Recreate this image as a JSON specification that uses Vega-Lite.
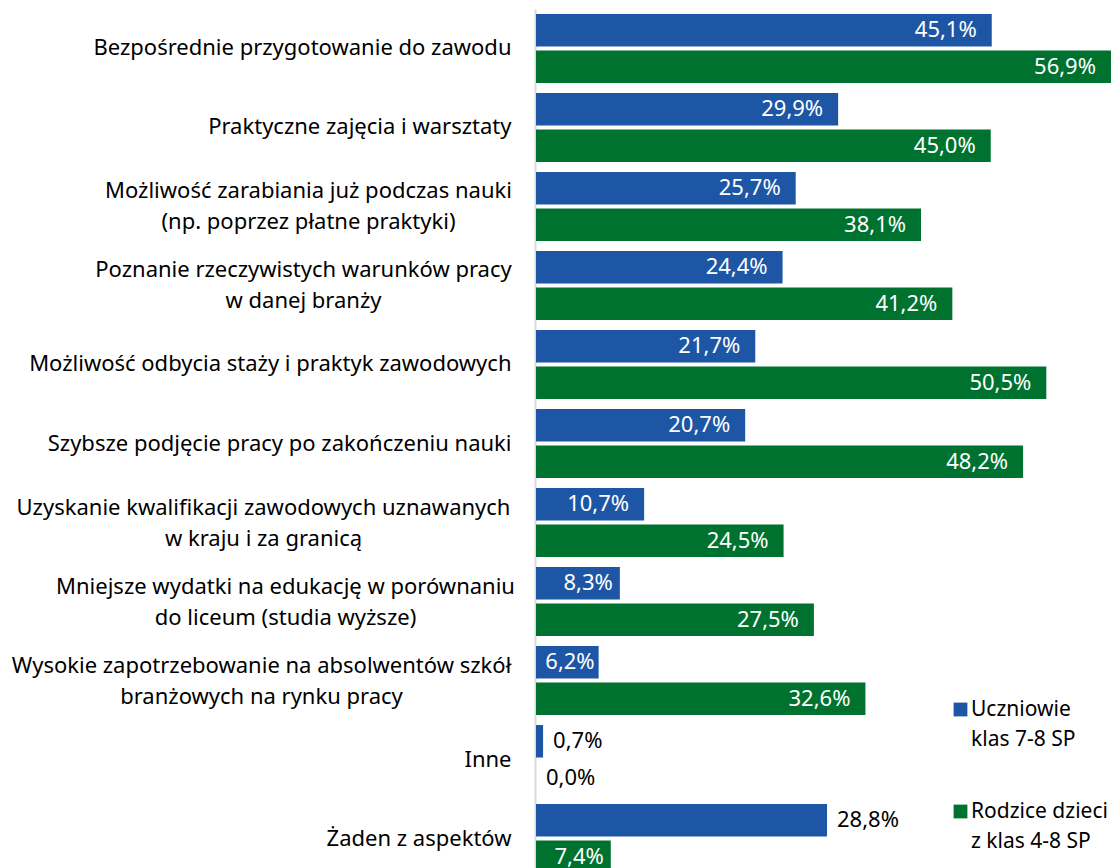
{
  "$schema": "https://vega.github.io/schema/vega-lite/v6.json",
  "width": 576,
  "height": 869,
  "autosize": {"type": "none"},
  "padding": {"left": 536, "top": 9, "right": 6, "bottom": 0},
  "background": "white",
  "config": {
    "view": {"stroke": null},
    "font": "Noto Sans",
    "style": {"guide-label": {"lineHeight": 30}}
  },
  "data": {
    "values": [
      {"category": "Bezpośrednie przygotowanie do zawodu", "series": "Uczniowie\nklas 7-8 SP", "value": 45.1},
      {"category": "Bezpośrednie przygotowanie do zawodu", "series": "Rodzice dzieci\nz klas 4-8 SP", "value": 56.9},
      {"category": "Praktyczne zajęcia i warsztaty", "series": "Uczniowie\nklas 7-8 SP", "value": 29.9},
      {"category": "Praktyczne zajęcia i warsztaty", "series": "Rodzice dzieci\nz klas 4-8 SP", "value": 45.0},
      {"category": "Możliwość zarabiania już podczas nauki\n(np. poprzez płatne praktyki)", "series": "Uczniowie\nklas 7-8 SP", "value": 25.7},
      {"category": "Możliwość zarabiania już podczas nauki\n(np. poprzez płatne praktyki)", "series": "Rodzice dzieci\nz klas 4-8 SP", "value": 38.1},
      {"category": "Poznanie rzeczywistych warunków pracy\nw danej branży", "series": "Uczniowie\nklas 7-8 SP", "value": 24.4},
      {"category": "Poznanie rzeczywistych warunków pracy\nw danej branży", "series": "Rodzice dzieci\nz klas 4-8 SP", "value": 41.2},
      {"category": "Możliwość odbycia staży i praktyk zawodowych", "series": "Uczniowie\nklas 7-8 SP", "value": 21.7},
      {"category": "Możliwość odbycia staży i praktyk zawodowych", "series": "Rodzice dzieci\nz klas 4-8 SP", "value": 50.5},
      {"category": "Szybsze podjęcie pracy po zakończeniu nauki", "series": "Uczniowie\nklas 7-8 SP", "value": 20.7},
      {"category": "Szybsze podjęcie pracy po zakończeniu nauki", "series": "Rodzice dzieci\nz klas 4-8 SP", "value": 48.2},
      {"category": "Uzyskanie kwalifikacji zawodowych uznawanych\nw kraju i za granicą", "series": "Uczniowie\nklas 7-8 SP", "value": 10.7},
      {"category": "Uzyskanie kwalifikacji zawodowych uznawanych\nw kraju i za granicą", "series": "Rodzice dzieci\nz klas 4-8 SP", "value": 24.5},
      {"category": "Mniejsze wydatki na edukację w porównaniu\ndo liceum (studia wyższe)", "series": "Uczniowie\nklas 7-8 SP", "value": 8.3},
      {"category": "Mniejsze wydatki na edukację w porównaniu\ndo liceum (studia wyższe)", "series": "Rodzice dzieci\nz klas 4-8 SP", "value": 27.5},
      {"category": "Wysokie zapotrzebowanie na absolwentów szkół\nbranżowych na rynku pracy", "series": "Uczniowie\nklas 7-8 SP", "value": 6.2},
      {"category": "Wysokie zapotrzebowanie na absolwentów szkół\nbranżowych na rynku pracy", "series": "Rodzice dzieci\nz klas 4-8 SP", "value": 32.6},
      {"category": "Inne", "series": "Uczniowie\nklas 7-8 SP", "value": 0.7},
      {"category": "Inne", "series": "Rodzice dzieci\nz klas 4-8 SP", "value": 0.0},
      {"category": "Żaden z aspektów", "series": "Uczniowie\nklas 7-8 SP", "value": 28.8},
      {"category": "Żaden z aspektów", "series": "Rodzice dzieci\nz klas 4-8 SP", "value": 7.4}
    ]
  },
  "transform": [
    {"calculate": "replace(format(datum.value, '.1f'), '.', ',') + '%'", "as": "label"}
  ],
  "encoding": {
    "y": {
      "field": "category",
      "type": "nominal",
      "scale": {
        "domain": [
          "Bezpośrednie przygotowanie do zawodu",
          "Praktyczne zajęcia i warsztaty",
          "Możliwość zarabiania już podczas nauki\n(np. poprzez płatne praktyki)",
          "Poznanie rzeczywistych warunków pracy\nw danej branży",
          "Możliwość odbycia staży i praktyk zawodowych",
          "Szybsze podjęcie pracy po zakończeniu nauki",
          "Uzyskanie kwalifikacji zawodowych uznawanych\nw kraju i za granicą",
          "Mniejsze wydatki na edukację w porównaniu\ndo liceum (studia wyższe)",
          "Wysokie zapotrzebowanie na absolwentów szkół\nbranżowych na rynku pracy",
          "Inne",
          "Żaden z aspektów"
        ],
        "paddingInner": 0.127,
        "paddingOuter": 0.063
      },
      "axis": {
        "title": null,
        "ticks": false,
        "domain": true,
        "domainColor": "#D9D9D9",
        "domainWidth": 2,
        "offset": 1,
        "labelFont": "Noto Sans",
        "labelFontSize": 22,
        "labelColor": "#000000",
        "labelLineHeight": 31,
        "labelLimit": 600,
        "labelExpr": "split(datum.label, '\\n')",
        "labelAlign": {
          "condition": {"test": "indexof(datum.value, '\\n') >= 0", "value": "center"},
          "value": "right"
        },
        "labelOffset": {
          "condition": {"test": "indexof(datum.value, '\\n') >= 0", "value": -15},
          "value": 0
        },
        "labelPadding": {
          "condition": [
            {"test": "indexof(datum.value, 'Możliwość zarabiania') == 0", "value": 227},
            {"test": "indexof(datum.value, 'Poznanie') == 0", "value": 232},
            {"test": "indexof(datum.value, 'Uzyskanie') == 0", "value": 272},
            {"test": "indexof(datum.value, 'Mniejsze') == 0", "value": 250},
            {"test": "indexof(datum.value, 'Wysokie') == 0", "value": 274}
          ],
          "value": 24
        }
      }
    },
    "yOffset": {
      "field": "series",
      "type": "nominal",
      "scale": {
        "domain": ["Uczniowie\nklas 7-8 SP", "Rodzice dzieci\nz klas 4-8 SP"],
        "paddingInner": 0.11,
        "paddingOuter": 0
      }
    },
    "x": {
      "field": "value",
      "type": "quantitative",
      "scale": {"domain": [0, 57], "nice": false},
      "axis": null
    }
  },
  "layer": [
    {
      "mark": {"type": "bar"},
      "encoding": {
        "color": {
          "field": "series",
          "type": "nominal",
          "scale": {
            "domain": ["Uczniowie\nklas 7-8 SP", "Rodzice dzieci\nz klas 4-8 SP"],
            "range": ["#1E56A6", "#00722F"]
          },
          "legend": {
            "orient": "none",
            "legendX": 414,
            "legendY": 690,
            "direction": "vertical",
            "title": null,
            "padding": 0,
            "symbolType": "square",
            "symbolSize": 190,
            "symbolStrokeWidth": 0,
            "labelFont": "Noto Sans",
            "labelFontSize": 21,
            "labelColor": "#000000",
            "labelLimit": 300,
            "labelOffset": 0,
            "rowPadding": 50,
            "labelExpr": "split(datum.label, '\\n')"
          }
        }
      }
    },
    {
      "transform": [{"filter": "!(datum.value < 1 || (datum.category == 'Żaden z aspektów' && indexof(datum.series, 'Uczniowie') == 0))"}],
      "mark": {
        "type": "text",
        "align": "right",
        "baseline": "middle",
        "dx": {"expr": "datum.value < 7 ? -4 : (datum.value < 10 ? -7 : -15)"},
        "color": "#FFFFFF",
        "font": "Noto Sans",
        "fontSize": 22
      },
      "encoding": {"text": {"field": "label"}}
    },
    {
      "transform": [{"filter": "datum.value < 1 || (datum.category == 'Żaden z aspektów' && indexof(datum.series, 'Uczniowie') == 0)"}],
      "mark": {"type": "text", "align": "left", "baseline": "middle", "dx": 10, "color": "#000000", "font": "Noto Sans", "fontSize": 22},
      "encoding": {"text": {"field": "label"}}
    }
  ]
}
